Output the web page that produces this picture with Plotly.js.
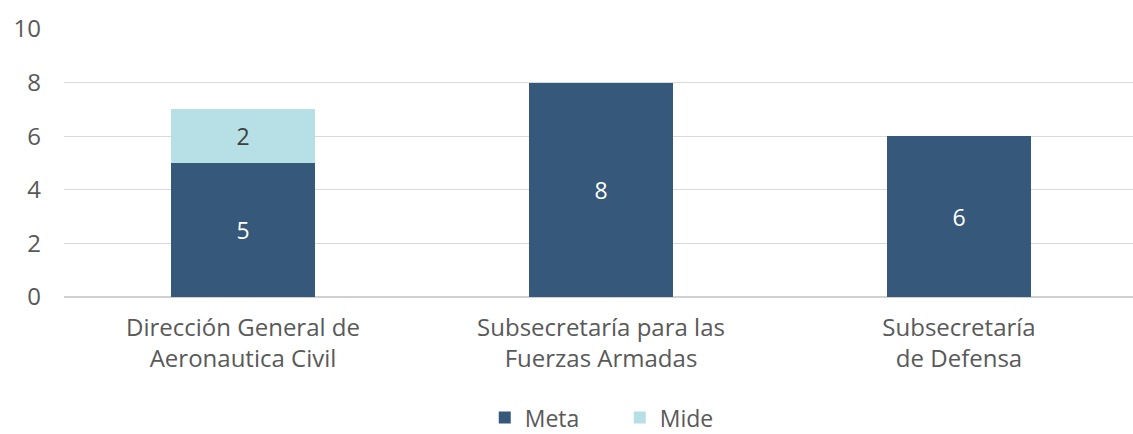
<!DOCTYPE html>
<html><head><meta charset="utf-8">
<script src="https://cdn.plot.ly/plotly-3.0.1.min.js"></script>
<style>html,body{margin:0;padding:0;background:#fff}#c{width:1133px;height:434px}</style>
</head><body><div id="c"></div>
<script>
const categories = ["Dirección General de<br>Aeronautica Civil", "Subsecretaría para las<br>Fuerzas Armadas", "Subsecretaría<br>de Defensa"];
const meta = [5, 8, 6];
const mide = [2, null, null];
const tickVals = [0, 2, 4, 6, 8, 10];
const fontFam = "Open Sans, sans-serif";
const traces = [
  {type:'bar', name:'Meta', x:categories, y:meta, width:0.4,
   marker:{color:'#36587A'}, text:meta.map(String), textposition:'inside', insidetextanchor:'middle',
   textfont:{color:'#ffffff', size:23, family:fontFam}, hoverinfo:'none'},
  {type:'bar', name:'Mide', x:categories, y:mide, width:0.4,
   marker:{color:'#B6DFE6'}, text:mide.map(v=>v==null?'':String(v)), textposition:'inside', insidetextanchor:'middle',
   textfont:{color:'#404040', size:23, family:fontFam}, hoverinfo:'none'}
];
const layout = {
  width:1133, height:434, barmode:'stack',
  margin:{l:64, r:0, t:29, b:137, autoexpand:false},
  paper_bgcolor:'#ffffff', plot_bgcolor:'rgba(0,0,0,0)',
  font:{family:fontFam, color:'#595959', size:20},
  showlegend:true,
  legend:{orientation:'h', x:0.547, xref:'container', xanchor:'center', y:-0.45, yref:'paper', yanchor:'middle',
          font:{size:23, color:'#595959'}, traceorder:'normal', itemwidth:30, entrywidth:90, tracegroupgap:0},
  xaxis:{type:'category', range:[-0.5, 2.486], showgrid:false, showline:false, ticks:'', ticklabelstandoff:14,
         tickfont:{size:24, color:'#595959'}, fixedrange:true, automargin:false},
  yaxis:{range:[0,10], tickvals:tickVals, ticktext:tickVals.map(String), showgrid:true, gridcolor:'#d9d9d9', gridwidth:1,
         zeroline:true, zerolinecolor:'#d0d0d0', zerolinewidth:2, showline:false, ticks:'', ticklabelstandoff:22,
         tickfont:{size:24, color:'#595959'}, fixedrange:true, automargin:false}
};
Plotly.newPlot('c', traces, layout, {displayModeBar:false, staticPlot:true});
</script></body></html>
